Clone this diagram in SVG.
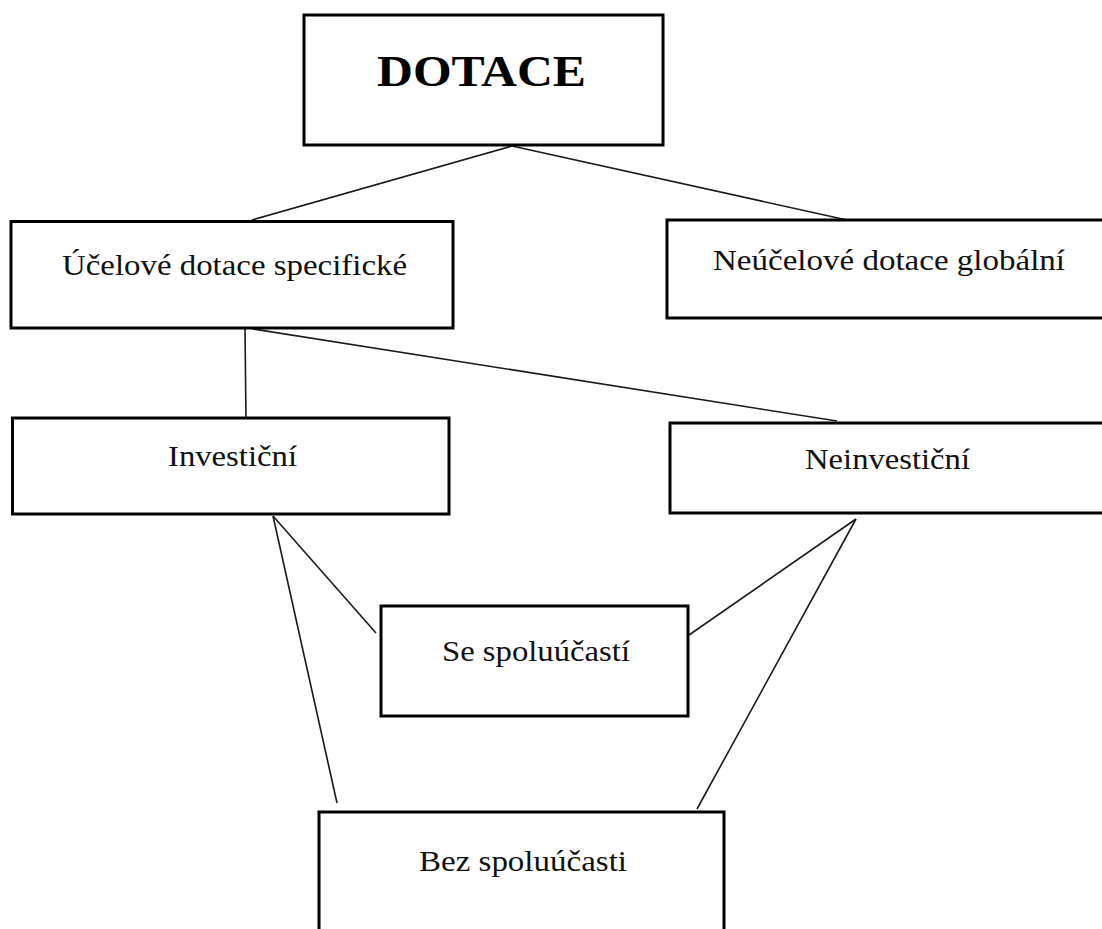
<svg xmlns="http://www.w3.org/2000/svg" width="1102" height="929" viewBox="0 0 1102 929">
<style>
.box{fill:#fff;stroke:#000;stroke-width:3}
.lbl{font-family:"Liberation Serif","Times New Roman",serif;font-size:30px;fill:#111}
.ttl{font-family:"Liberation Serif","Times New Roman",serif;font-size:44px;font-weight:bold;fill:#000}
.con line{stroke:#1a1a1a;stroke-width:1.6;fill:none}
</style>
<rect width="1102" height="929" fill="#fff"/>
<g class="con" id="connectors">
<line x1="512" y1="146" x2="252" y2="220"/>
<line x1="512" y1="146" x2="847" y2="220"/>
<line x1="245" y1="329" x2="246" y2="420"/>
<line x1="253" y1="329" x2="837" y2="421"/>
<line x1="273" y1="516" x2="376" y2="633"/>
<line x1="273" y1="516" x2="337" y2="803"/>
<line x1="856" y1="519" x2="689" y2="635"/>
<line x1="856" y1="519" x2="697" y2="809"/>
</g>
<g id="dotace">
<rect class="box" x="304" y="15" width="359" height="130"/>
<text class="ttl" x="377" y="86" textLength="209" lengthAdjust="spacingAndGlyphs">DOTACE</text>
</g>
<g id="ucelove">
<rect class="box" x="11" y="221.5" width="442" height="106.5"/>
<text class="lbl" x="62" y="275" textLength="345" lengthAdjust="spacingAndGlyphs">Účelové dotace specifické</text>
</g>
<g id="neucelove">
<rect class="box" x="667" y="220" width="440" height="98"/>
<text class="lbl" x="713" y="270" textLength="352" lengthAdjust="spacingAndGlyphs">Neúčelové dotace globální</text>
</g>
<g id="investicni">
<rect class="box" x="12.5" y="418" width="436.5" height="96"/>
<text class="lbl" x="168" y="466" textLength="129" lengthAdjust="spacingAndGlyphs">Investiční</text>
</g>
<g id="neinvesticni">
<rect class="box" x="670" y="423" width="440" height="90"/>
<text class="lbl" x="805" y="469" textLength="165" lengthAdjust="spacingAndGlyphs">Neinvestiční</text>
</g>
<g id="se-spoluucasti">
<rect class="box" x="381" y="606" width="307" height="110"/>
<text class="lbl" x="442" y="661" textLength="188" lengthAdjust="spacingAndGlyphs">Se spoluúčastí</text>
</g>
<g id="bez-spoluucasti">
<rect class="box" x="319" y="812" width="405" height="130"/>
<text class="lbl" x="419" y="871" textLength="208" lengthAdjust="spacingAndGlyphs">Bez spoluúčasti</text>
</g>
</svg>
